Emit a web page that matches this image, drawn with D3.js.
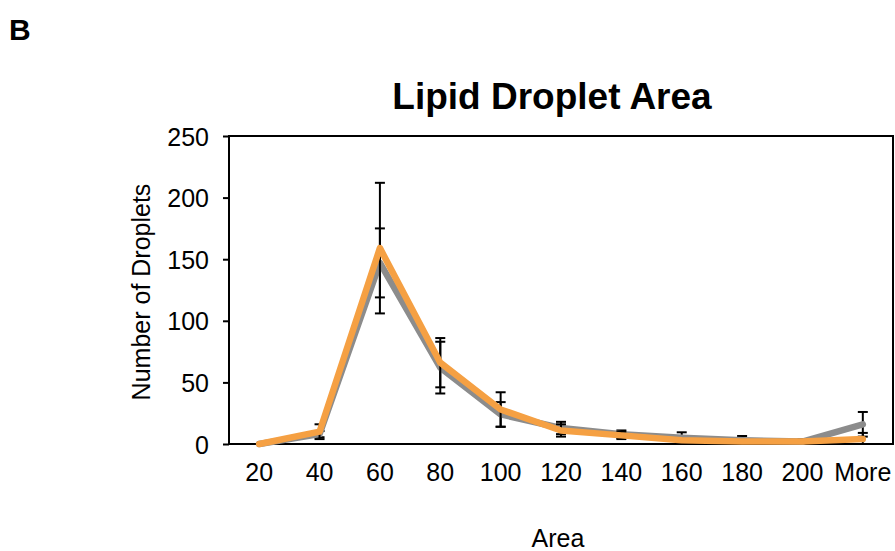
<!DOCTYPE html>
<html>
<head>
<meta charset="utf-8">
<script src="https://cdn.jsdelivr.net/npm/d3@7"></script>
<style>
  body { margin: 0; background: #fff; }
  text { font-family: "Liberation Sans", Arial, sans-serif; fill: #000; }
</style>
</head>
<body>
<div id="chart"></div>
<script>
var width = 895;
var height = 551;

// bins on the x axis
var categories = ["20", "40", "60", "80", "100", "120", "140", "160", "180", "200", "More"];
// grey series + its error
var greyValues = [0, 8, 147, 62, 24, 13, 8, 5, 3, 2, 16];
var greyErr    = [0, 2.5, 28, 21, 10, 5, 3, 4.5, 3.5, 2, 10];
// orange series + its error
var orangeValues = [0, 10, 159, 66, 28, 11, 7, 3, 2, 2, 4];
var orangeErr    = [0, 6, 53, 20, 14, 5, 3, 1, 1, 1, 5];
var yTicks = [0, 50, 100, 150, 200, 250];

var svg = d3.select("#chart")
    .append("svg")
    .attr("width", width)
    .attr("height", height)

svg.append("rect").attr("width", width).attr("height", height).attr("fill", "white")

var plot = { left: 229, right: 893, top: 136, bottom: 444 };

var x = d3.scaleBand().domain(categories).range([plot.left, plot.right]);
var y = d3.scaleLinear().domain([0, 250]).range([plot.bottom, plot.top]);
var cx = function(c) { return x(c) + x.bandwidth() / 2 };

// y axis
var yAxis = svg.append("g")
    .attr("transform", "translate(" + plot.left + ",0)")
    .call(d3.axisLeft(y).tickValues(yTicks).tickSize(6).tickPadding(14))
yAxis.select(".domain").remove()
yAxis.selectAll("line").attr("stroke", "#000").attr("stroke-width", 2)
yAxis.selectAll("text").style("font-size", "25px").attr("dy", "0.36em")

// x axis (labels only)
var xAxis = svg.append("g")
    .attr("transform", "translate(0," + plot.bottom + ")")
    .call(d3.axisBottom(x).tickSize(0).tickPadding(19))
xAxis.select(".domain").remove()
xAxis.selectAll("text").style("font-size", "25px")

// frame
svg.append("rect")
    .attr("x", plot.left).attr("y", plot.top)
    .attr("width", plot.right - plot.left)
    .attr("height", plot.bottom - plot.top)
    .attr("fill", "none")
    .attr("stroke", "#000")
    .attr("stroke-width", 2)

var line = d3.line()
    .x(function(d) { return cx(d.cat) })
    .y(function(d) { return y(d.v) })

function drawSeries(values, errs, color) {
    var rows = values.map(function(v, i) {
        return { cat: categories[i], v: v, e: errs[i] }
    })
    var g = svg.append("g")
    var eb = g.selectAll(".err").data(rows.filter(function(d) { return d.e > 0 }))
        .enter().append("g").attr("class", "err")
    eb.append("line")
        .attr("x1", function(d) { return cx(d.cat) })
        .attr("x2", function(d) { return cx(d.cat) })
        .attr("y1", function(d) { return y(d.v + d.e) })
        .attr("y2", function(d) { return y(Math.max(0, d.v - d.e)) })
        .attr("stroke", "#000").attr("stroke-width", 2)
    eb.append("line")
        .attr("x1", function(d) { return cx(d.cat) - 5 })
        .attr("x2", function(d) { return cx(d.cat) + 5 })
        .attr("y1", function(d) { return y(d.v + d.e) })
        .attr("y2", function(d) { return y(d.v + d.e) })
        .attr("stroke", "#000").attr("stroke-width", 2)
    eb.append("line")
        .attr("x1", function(d) { return cx(d.cat) - 5 })
        .attr("x2", function(d) { return cx(d.cat) + 5 })
        .attr("y1", function(d) { return y(Math.max(0, d.v - d.e)) })
        .attr("y2", function(d) { return y(Math.max(0, d.v - d.e)) })
        .attr("stroke", "#000").attr("stroke-width", 2)
    g.append("path")
        .datum(rows)
        .attr("d", line)
        .attr("fill", "none")
        .attr("stroke", color)
        .attr("stroke-width", 6.5)
        .attr("stroke-linejoin", "round")
        .attr("stroke-linecap", "round")
}

drawSeries(greyValues, greyErr, "#8c8c8c");
drawSeries(orangeValues, orangeErr, "#f5a043");

// titles
svg.append("text")
    .attr("x", 552).attr("y", 109)
    .attr("text-anchor", "middle")
    .style("font-size", "37px").style("font-weight", "bold")
    .text("Lipid Droplet Area")

svg.append("text")
    .attr("x", 9).attr("y", 40)
    .style("font-size", "30px").style("font-weight", "bold")
    .text("B")

svg.append("text")
    .attr("transform", "translate(150,292) rotate(-90)")
    .attr("text-anchor", "middle")
    .style("font-size", "25px")
    .text("Number of Droplets")

svg.append("text")
    .attr("x", 558).attr("y", 547)
    .attr("text-anchor", "middle")
    .style("font-size", "25px")
    .text("Area")
</script>
</body>
</html>
